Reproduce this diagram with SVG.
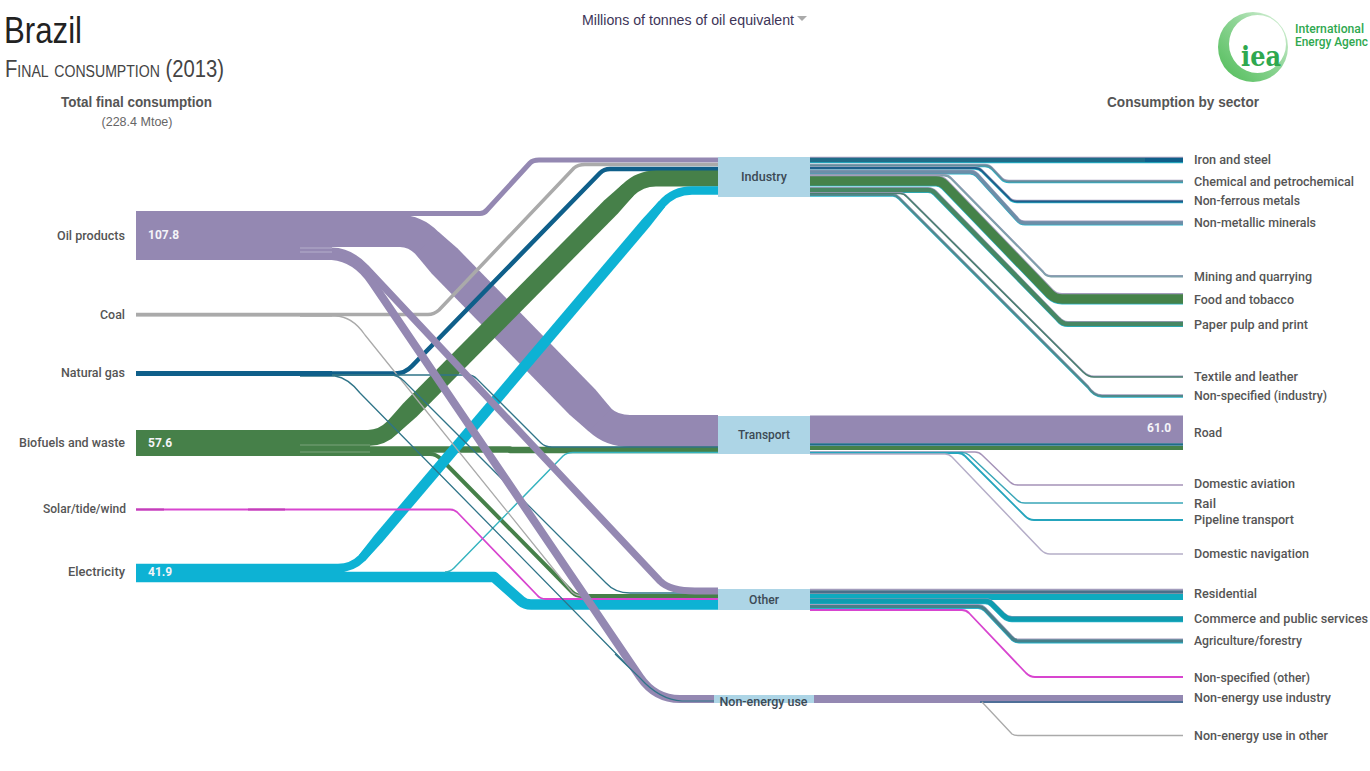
<svg xmlns="http://www.w3.org/2000/svg" width="1370" height="771" viewBox="0 0 1370 771">
<style>
.f{fill:none;stroke-linejoin:round}
.oil{stroke:#9488b2}.coal{stroke:#aaaaaa}.gas{stroke:#0f5f8a}.gast{stroke:#2f7488}.bio{stroke:#468049}.sol{stroke:#d845cf}.ele{stroke:#0db2d4}.elet{stroke:#35b3bf}
.top{stroke:#a29cbc}.bot{stroke:#25b3ca}
.m-iron{stroke:#1f6c88}.m-chem{stroke:#5f8f9c}.m-fer{stroke:#1d5f8a}.m-met{stroke:#6d8ea8}.m-min{stroke:#7fa0ac}.m-food{stroke:#458249}.m-pap{stroke:#478763}.m-tex{stroke:#4a7f70}.m-nsi{stroke:#4f8a8c}
.m-com{stroke:#0e9cb0}.m-agr{stroke:#45808a}
.box{fill:#add5e6}
.b-oil{fill:#9488b2}.b-coal{fill:#aaaaaa}.b-gas{fill:#0f5f8a}.b-bio{fill:#468049}.b-ele{fill:#0db2d4}
text{font-family:Roboto,"Liberation Sans",Arial,sans-serif}
.l{font-size:12.5px;font-weight:500;fill:#555555}
.c{font-size:12.5px;font-weight:500;fill:#3c4a55}
.v{font-size:12px;font-weight:700;fill:#f4f4f8}
.h{font-family:"Liberation Sans",Arial,sans-serif;font-weight:700;fill:#555555;font-size:15.5px}
</style>
<defs>
<linearGradient id="ring" x1="0" y1="1" x2="1" y2="0"><stop offset="0" stop-color="#4dbb55"/><stop offset="0.55" stop-color="#8fd596"/><stop offset="1" stop-color="#e4f5e4"/></linearGradient>
<path id="p-iron" stroke-width="4.6" d="M810 160H1183"/>
<path id="p-chem" stroke-width="1.8" d="M810 165.500H985Q989 165.500 992 168.500L1001 178Q1004 181.500 1009 181.500H1183"/>
<path id="p-fer" stroke-width="1.8" d="M810 168H975Q979 168 982 171L1009 198Q1012 201.500 1017 201.500H1183"/>
<path id="p-met" stroke-width="3.400" d="M810 172H970Q974 172 977 175L1017 219Q1020 223 1025 223H1183"/>
<path id="p-min" stroke-width="1.800" d="M810 175.500H944Q948 175.500 951 178.500L1043 272Q1046 276.500 1051 276.500H1183"/>
<path id="p-food" stroke-width="9.500" d="M810 181H936Q941 181 945 185L1050 294Q1055 299 1062 299H1183"/>
<path id="p-pap" stroke-width="4.500" d="M810 190H928Q932 190 935 193L1058 319Q1062 324 1068 324H1183"/>
<path id="p-tex" stroke-width="1.600" d="M810 193.500H900Q904 193.500 907 197L1083 372Q1088 377 1094 377H1183"/>
<path id="p-nsi" stroke-width="2" d="M810 195H893Q896 195 899 198L1088 387Q1094 396 1102 396H1183"/>
<path id="p-com" stroke-width="5" d="M810 601H985Q989 601 992 604L1003 615Q1007 619 1012 619H1183"/>
<path id="p-agr" stroke-width="3.200" d="M810 606.500H978Q982 606.500 985 609.500L1011 637Q1014 641 1019 641H1183"/>
</defs>

<g id="connectors" class="f">
<!-- Oil -->
<path class="oil" stroke-width="32" d="M136 231H400Q415 231 427 243L600 420Q612 431 630 431H718"/>
<polygon class="b-oil" points="438.400,231.800 457.400,248.300 595.400,389.500 611.400,408.800 588.600,431.200 569.600,414.700 431.600,273.500 415.600,254.200"/>
<path class="oil" stroke-width="5" d="M136 213.500H480Q484 213.500 487 210L530 163Q533 160 539 160H718"/>
<!-- Coal -->
<path class="coal" stroke-width="3.500" d="M136 314.500H428Q434 314.500 439 310L574 168Q578 164.500 585 164.500H718"/>
<!-- Gas -->
<path class="gas" stroke-width="4.500" d="M136 373.500H395Q405 373.500 412 366L600 173Q604 169 610 169H718"/>
<!-- Biofuels -->
<path class="bio" stroke-width="16" d="M136 438H368Q382 438 393 427L628 190Q640 178.500 656 178.500H718"/>
<polygon class="b-bio" points="398.700,432.600 416.700,416.700 617.700,213.700 633.700,195.600 622.300,184.400 604.300,200.300 403.300,403.300 387.300,421.400"/>
<path class="bio" stroke-width="6.500" d="M136 449.500H510V450H718"/>
<path class="bio" stroke-width="4" d="M136 454H430Q436 454 441 459L572 592Q576 596 582 596H718"/>
<!-- Electricity -->
<path class="ele" stroke-width="8.500" d="M136 568H338Q352 568 362 558L662 204Q674 190.500 692 190.500H718"/>
<polygon class="b-ele" points="365.200,560.700 382.200,542.300 649.800,226.500 665.200,206.700 658.800,201.300 641.800,219.700 374.200,535.500 358.800,555.300"/>
<path class="ele" stroke-width="10.500" d="M136 577H494L521 601Q525 604.500 531 604.500H718"/>
<path class="elet" stroke-width="1.500" d="M445 572Q450 572 454 568L563 456Q567 452.500 573 452.500H718"/>
<!-- Solar -->
<path class="sol" stroke-width="1.800" d="M136 509.500H450Q454 509.500 457 512L537 595Q540 599 546 599H718"/>
<!-- Thin coal -->
<path class="coal" stroke-width="1.300" d="M300 316H335Q352 316 365 335L572 592Q576 596 585 596"/>
<!-- Thin gas -->
<path class="gast" stroke-width="1.300" d="M300 375H468Q473 375 477 379L541 443Q545 447 552 447H718"/>
<path class="gast" stroke-width="1.300" d="M300 375H390Q398 375 404 381L606 583Q615 593 630 593H718"/>
<path class="gast" stroke-width="1.300" d="M300 376H335Q348 378 360 393L640 678Q660 700 682 701H714"/>
<!-- Oil to Other and Non-energy -->
<path class="oil" stroke-width="7" d="M136 251H332Q350 251 366 268L660 581Q670 591 695 591H718"/>
<path class="oil" stroke-width="8" d="M136 256H332Q356 258 372 282L640 677Q655 699 680 699H714"/>
<path class="gast" stroke-width="1.200" d="M615 654L640 678Q660 700 682 701H714"/>

<!-- Industry to sectors -->
<g id="industry-flows">
<use href="#p-iron" class="bot" y="1"/><use href="#p-iron" class="top" y="-1"/><use href="#p-iron" class="m-iron" stroke-width="3"/>
<path d="M1145 160H1183" stroke="#0f5f8a" stroke-width="4"/>
<use href="#p-chem" class="bot" y="0.800"/><use href="#p-chem" class="top" y="-0.800"/><use href="#p-chem" class="m-chem"/>
<use href="#p-fer" class="bot" y="0.800"/><use href="#p-fer" class="top" y="-0.800"/><use href="#p-fer" class="m-fer"/>
<use href="#p-met" class="bot" y="0.800"/><use href="#p-met" class="top" y="-0.800"/><use href="#p-met" class="m-met"/>
<use href="#p-min" class="top" y="-0.600"/><use href="#p-min" class="m-min"/>
<use href="#p-food" class="bot" y="0.800"/><use href="#p-food" class="top" y="-1.200"/><use href="#p-food" class="m-food"/>
<use href="#p-pap" class="bot" y="0.800"/><use href="#p-pap" class="top" y="-0.800"/><use href="#p-pap" class="m-pap"/>
<use href="#p-nsi" class="bot" y="0.800"/><use href="#p-nsi" class="top" y="-0.800"/><use href="#p-nsi" class="m-nsi"/>
<use href="#p-tex" class="top" y="-0.600"/><use href="#p-tex" class="m-tex"/>
</g>
<!-- Transport to sectors -->
<g id="transport-flows">
<path class="oil" stroke-width="28" d="M810 429.500H1183"/>
<path stroke="#1f6c88" stroke-width="2.500" d="M810 444.500H1183"/>
<path class="bio" stroke-width="4" d="M810 448H1183"/>
<path stroke="#a593b8" stroke-width="1.500" d="M810 452H975Q979 452 982 455L1010 482Q1013 485 1018 485H1183"/>
<path stroke="#3aa6b8" stroke-width="1.500" d="M810 452.500H962Q966 452.500 969 455L1017 500Q1020 503 1025 503H1183"/>
<path stroke="#25a5bd" stroke-width="1.800" d="M810 453H958Q962 453 965 456L1025 516Q1029 520 1034 520H1183"/>
<path stroke="#b5aec8" stroke-width="1.500" d="M810 454H945Q949 454 952 457L1041 550Q1045 554 1050 554H1183"/>
</g>
<!-- Other to sectors -->
<g id="other-flows">
<path stroke="#a29cbc" stroke-width="1.500" d="M810 589.500H1183"/>
<path stroke="#4a6f8a" stroke-width="3.500" d="M810 592H1183"/>
<path stroke="#0eaabf" stroke-width="6" d="M810 597H1183"/>
<use href="#p-com" class="bot" y="0.800"/><use href="#p-com" class="top" y="-0.500"/><use href="#p-com" class="m-com"/>
<use href="#p-agr" class="bot" y="0.800"/><use href="#p-agr" class="top" y="-0.800"/><use href="#p-agr" class="m-agr"/>
<path class="sol" stroke-width="1.800" d="M810 610H962Q966 610 969 613L1026 673Q1030 677 1035 677H1183"/>
</g>
<!-- Non-energy to sectors -->
<g id="nonenergy-flows">
<path class="oil" stroke-width="8" d="M814 699H1183"/>
<path stroke="#4f6f98" stroke-width="1.800" d="M980 702H1183"/>
<path stroke="#aaaaaa" stroke-width="1.300" d="M982 702L1012 734Q1014 735.500 1018 735.500H1183"/>
</g>
</g>

<g id="node-oil"><rect class="b-oil" x="136" y="211" width="196" height="49"/><path d="M300 248H332M300 252H332" stroke="#b4aecb" stroke-width="1"/><text class="l" x="125" y="240" text-anchor="end" textLength="68" lengthAdjust="spacingAndGlyphs">Oil products</text><text class="v" x="148" y="239">107.8</text></g>
<g id="node-coal"><rect class="b-coal" x="136" y="313" width="196" height="3.500"/><text class="l" x="125" y="319" text-anchor="end" textLength="25" lengthAdjust="spacingAndGlyphs">Coal</text></g>
<g id="node-gas"><rect class="b-gas" x="136" y="371" width="196" height="5"/><text class="l" x="125" y="377" text-anchor="end" textLength="64" lengthAdjust="spacingAndGlyphs">Natural gas</text></g>
<g id="node-bio"><rect class="b-bio" x="136" y="430" width="234" height="26"/><path d="M300 445H370M300 452H370" stroke="#7ba37d" stroke-width="1"/><text class="l" x="125" y="447" text-anchor="end" textLength="106" lengthAdjust="spacingAndGlyphs">Biofuels and waste</text><text class="v" x="148" y="447">57.6</text></g>
<g id="node-solar"><path d="M136 509.500H164M248 509.500H285" stroke="#c23fb8" stroke-width="2"/><text class="l" x="126" y="513" text-anchor="end" textLength="83" lengthAdjust="spacingAndGlyphs">Solar/tide/wind</text></g>
<g id="node-elec"><rect class="b-ele" x="136" y="564" width="205" height="18"/><text class="l" x="125" y="576" text-anchor="end" textLength="57" lengthAdjust="spacingAndGlyphs">Electricity</text><text class="v" x="148" y="576">41.9</text></g>

<g id="node-industry"><rect class="box" x="718" y="157" width="92" height="40"/><text class="c" x="764" y="181" text-anchor="middle" textLength="46" lengthAdjust="spacingAndGlyphs">Industry</text></g>
<g id="node-transport"><rect class="box" x="718" y="416" width="92" height="38"/><text class="c" x="764" y="439" text-anchor="middle" textLength="52" lengthAdjust="spacingAndGlyphs">Transport</text></g>
<g id="node-other"><rect class="box" x="718" y="589" width="92" height="21"/><text class="c" x="764" y="604" text-anchor="middle" textLength="30" lengthAdjust="spacingAndGlyphs">Other</text></g>
<g id="node-nonenergy"><rect class="box" x="714" y="695" width="100" height="8"/><text class="c" x="763.500" y="706" text-anchor="middle" textLength="88" lengthAdjust="spacingAndGlyphs">Non-energy use</text></g>

<g id="sector-labels">
<text class="l" x="1194" y="164" textLength="77" lengthAdjust="spacingAndGlyphs">Iron and steel</text>
<text class="l" x="1194" y="186" textLength="160" lengthAdjust="spacingAndGlyphs">Chemical and petrochemical</text>
<text class="l" x="1194" y="205" textLength="106" lengthAdjust="spacingAndGlyphs">Non-ferrous metals</text>
<text class="l" x="1194" y="227" textLength="122" lengthAdjust="spacingAndGlyphs">Non-metallic minerals</text>
<text class="l" x="1194" y="281" textLength="118" lengthAdjust="spacingAndGlyphs">Mining and quarrying</text>
<text class="l" x="1194" y="304" textLength="100" lengthAdjust="spacingAndGlyphs">Food and tobacco</text>
<text class="l" x="1194" y="329" textLength="114" lengthAdjust="spacingAndGlyphs">Paper pulp and print</text>
<text class="l" x="1194" y="381" textLength="104" lengthAdjust="spacingAndGlyphs">Textile and leather</text>
<text class="l" x="1194" y="400" textLength="133" lengthAdjust="spacingAndGlyphs">Non-specified (industry)</text>
<text class="l" x="1194" y="437" textLength="28" lengthAdjust="spacingAndGlyphs">Road</text>
<text class="l" x="1194" y="488" textLength="101" lengthAdjust="spacingAndGlyphs">Domestic aviation</text>
<text class="l" x="1194" y="508" textLength="22" lengthAdjust="spacingAndGlyphs">Rail</text>
<text class="l" x="1194" y="524" textLength="100" lengthAdjust="spacingAndGlyphs">Pipeline transport</text>
<text class="l" x="1194" y="558" textLength="115" lengthAdjust="spacingAndGlyphs">Domestic navigation</text>
<text class="l" x="1194" y="598" textLength="63" lengthAdjust="spacingAndGlyphs">Residential</text>
<text class="l" x="1194" y="623" textLength="174" lengthAdjust="spacingAndGlyphs">Commerce and public services</text>
<text class="l" x="1194" y="645" textLength="108" lengthAdjust="spacingAndGlyphs">Agriculture/forestry</text>
<text class="l" x="1194" y="682" textLength="116" lengthAdjust="spacingAndGlyphs">Non-specified (other)</text>
<text class="l" x="1194" y="702" textLength="137" lengthAdjust="spacingAndGlyphs">Non-energy use industry</text>
<text class="l" x="1194" y="740" textLength="134" lengthAdjust="spacingAndGlyphs">Non-energy use in other</text>
<text class="v" x="1147" y="432">61.0</text>
</g>

<g id="titles">
<text x="4" y="43" font-size="37" fill="#222222" style="font-family:'Liberation Sans',Arial,sans-serif" textLength="78" lengthAdjust="spacingAndGlyphs">Brazil</text>
<text x="5" y="77" font-size="23" fill="#444444" style="font-family:'Liberation Sans',Arial,sans-serif;font-variant:small-caps" textLength="219" lengthAdjust="spacingAndGlyphs">Final consumption (2013)</text>
<text class="h" x="136.500" y="107" text-anchor="middle" textLength="151" lengthAdjust="spacingAndGlyphs">Total final consumption</text>
<text x="137" y="126" text-anchor="middle" font-size="13.500" fill="#666666" style="font-family:'Liberation Sans',Arial,sans-serif" textLength="71" lengthAdjust="spacingAndGlyphs">(228.4 Mtoe)</text>
<text class="h" x="1183" y="107" text-anchor="middle" textLength="152" lengthAdjust="spacingAndGlyphs">Consumption by sector</text>
<text x="582" y="25" font-size="15.500" fill="#3d3558" style="font-family:'Liberation Sans',Arial,sans-serif" textLength="212" lengthAdjust="spacingAndGlyphs">Millions of tonnes of oil equivalent</text>
<path d="M797 16H807L802 21Z" fill="#aaaaaa"/>
</g>

<g id="logo">
<path fill="url(#ring)" fill-rule="evenodd" d="M1288 47A35 35 0 1 1 1218 47A35 35 0 1 1 1288 47ZM1286 44A28.500 29 0 1 0 1229 44A28.500 29 0 1 0 1286 44Z"/>
<text x="1241" y="66" font-size="27" font-weight="700" fill="#2fa84f" style="font-family:'DejaVu Serif',serif" textLength="40" lengthAdjust="spacingAndGlyphs">iea</text>
<text x="1295" y="33" font-size="12" font-weight="500" fill="#2fa84f" textLength="69" lengthAdjust="spacingAndGlyphs">International</text>
<text x="1295" y="46" font-size="12" font-weight="500" fill="#2fa84f" textLength="73" lengthAdjust="spacingAndGlyphs">Energy Agenc</text>
</g>
</svg>
